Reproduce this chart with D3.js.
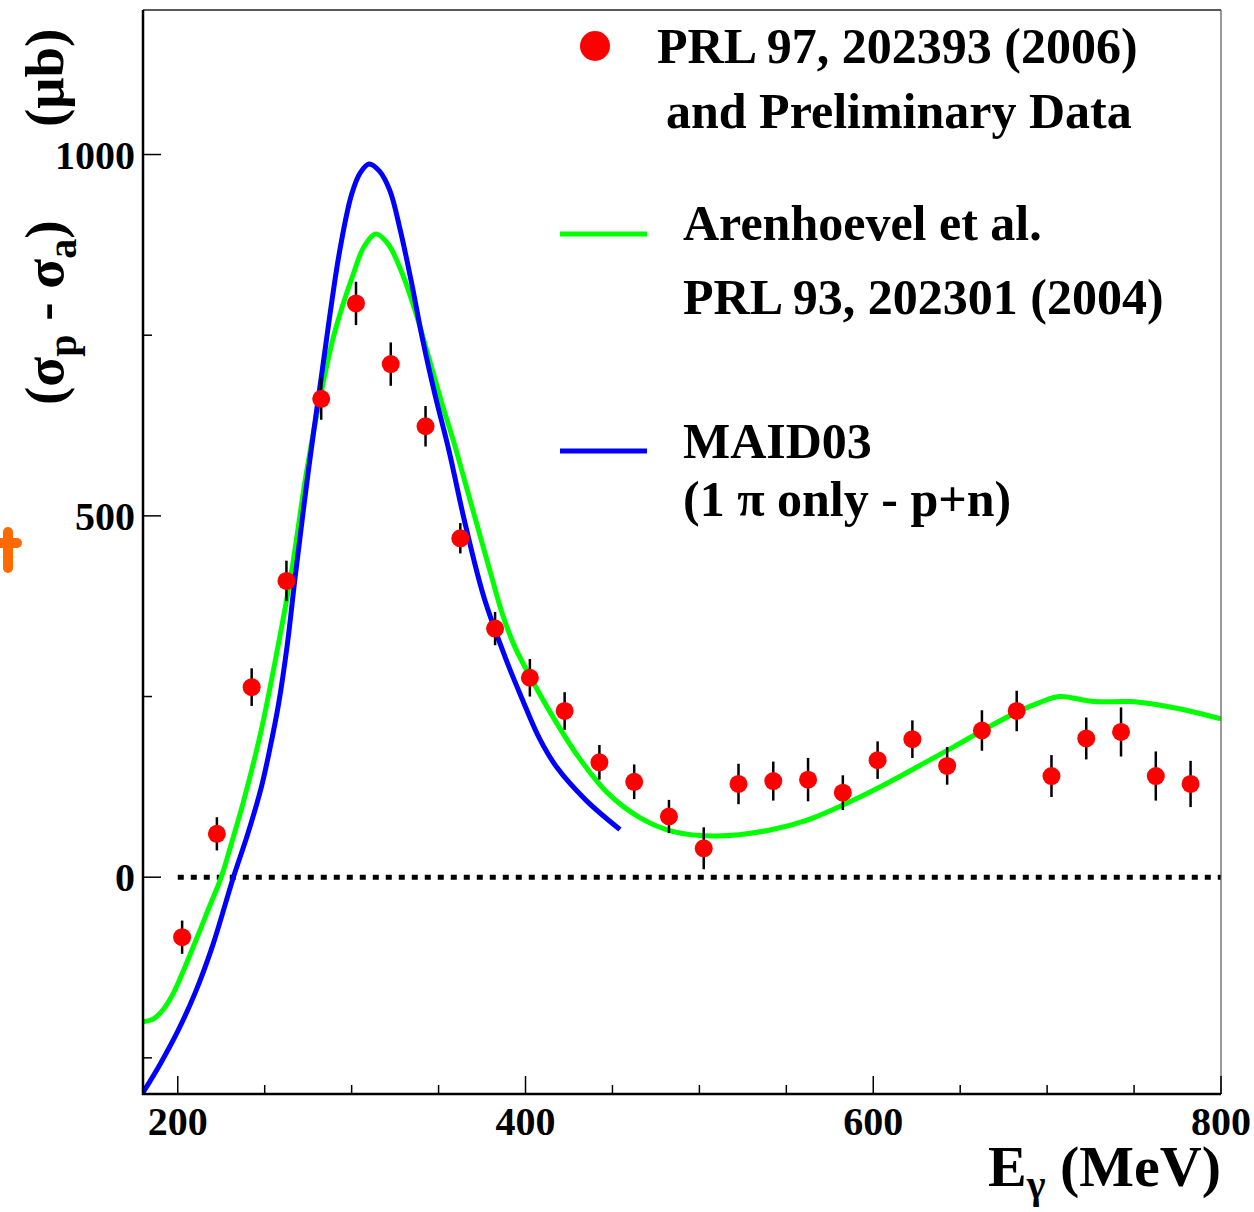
<!DOCTYPE html>
<html>
<head>
<meta charset="utf-8">
<script src="https://cdn.jsdelivr.net/npm/d3@7"></script>
<style>
  html, body { margin: 0; padding: 0; background: #fff; }
  svg { display: block; }
  text { font-family: "Liberation Serif", "Times New Roman", serif; font-weight: bold; fill: #000; }
</style>
</head>
<body>
<script>
// Photon energy of each measured point (MeV)
const dataEnergy = [202.5, 222.5, 242.5, 262.5, 282.5, 302.5, 322.5, 342.5, 362.5, 382.5,
                    402.5, 422.5, 442.5, 462.5, 482.5, 502.5, 522.5, 542.5, 562.5, 582.5,
                    602.5, 622.5, 642.5, 662.5, 682.5, 702.5, 722.5, 742.5, 762.5, 782.5];
// sigma_p - sigma_a (microbarn)
const dataValue = [-83, 60, 263, 410, 662, 794, 710, 624, 469, 344,
                   276, 230, 159, 132, 84, 40, 129, 133, 135, 117,
                   162, 191, 154, 203, 230, 140, 192, 201, 140, 129];
const dataError = [23, 23, 26, 28, 29, 30, 30, 28, 21, 23,
                   26, 26, 24, 24, 23, 29, 28, 27, 30, 24,
                   26, 26, 26, 28, 28, 29, 29, 34, 34, 32];

// Arenhoevel et al. calculation
const arenEnergy = [180, 186, 192, 198, 204, 212, 218, 225, 231, 237.7, 247.7, 257.6, 265.5, 274, 282, 290, 301, 307, 314,
                    321, 329, 337, 344, 352, 359, 366, 373, 380, 387, 394, 403, 415, 430, 447, 466, 485, 510,
                    540, 562, 588, 608, 627, 646, 665, 684, 696, 707, 727, 748, 765, 780, 800];
const arenValue  = [-200, -196, -182, -158, -125, -78, -42, 0, 48, 104, 200, 319, 424, 560, 665, 752, 835, 872, 890,
                    876, 836, 780, 722, 655, 600, 540, 480, 420, 362, 318, 276, 225, 168, 117, 82, 63, 57,
                    65, 79, 106, 130, 155, 180, 206, 230, 242, 250, 243, 243, 238, 231, 219];

// MAID03 (single pion, p+n)
const maidEnergy = [180, 190, 200, 210, 220, 232, 240, 248, 253, 258, 263, 267.5, 275, 283, 293, 300, 305, 310,
                    316, 322, 328, 334, 341, 348, 356, 365, 376, 389, 398, 408, 418, 435, 454.3];
const maidValue  = [-298, -258, -213, -160, -95, 0, 58, 124, 178, 240, 322, 415, 560, 700, 865, 945, 975, 987,
                    977, 950, 895, 828, 742, 667, 590, 492, 388, 300, 247, 192, 152, 106, 66];

// Axis ticks
const xMajorTicks = [200, 400, 600, 800];
const xMinorTicks = [250, 300, 350, 450, 500, 550, 650, 700, 750];
const yMajorTicks = [0, 500, 1000];
const yMinorTicks = [-250, 250, 750];

const W = 1254, H = 1212;
const padL = 143, padR = 1221, padT = 10, padB = 1094;

const svg = d3.select("body").append("svg").attr("width", W).attr("height", H);

const x = d3.scaleLinear().domain([180, 800]).range([padL, padR]);
const y = d3.scaleLinear().domain([-300, 1200]).range([padB, padT]);

svg.append("defs").append("clipPath").attr("id", "plotClip")
  .append("rect").attr("x", padL).attr("y", padT).attr("width", padR - padL).attr("height", padB - padT);

const plot = svg.append("g").attr("clip-path", "url(#plotClip)");

// zero reference line
plot.append("line")
  .attr("x1", x(200)).attr("x2", x(800)).attr("y1", y(0)).attr("y2", y(0))
  .attr("stroke", "#000").attr("stroke-width", 5).attr("stroke-dasharray", "6,7");

const line = d3.line().curve(d3.curveCatmullRom.alpha(0.5));

plot.append("path")
  .attr("d", line(arenEnergy.map((e, i) => [x(e), y(arenValue[i])])))
  .attr("fill", "none").attr("stroke", "#00ff00").attr("stroke-width", 5);

plot.append("path")
  .attr("d", line(maidEnergy.map((e, i) => [x(e), y(maidValue[i])])))
  .attr("fill", "none").attr("stroke", "#0000ff").attr("stroke-width", 5);

// measured points with error bars
const pts = plot.append("g");
dataEnergy.forEach((e, i) => {
  pts.append("line")
    .attr("x1", x(e)).attr("x2", x(e))
    .attr("y1", y(dataValue[i] - dataError[i])).attr("y2", y(dataValue[i] + dataError[i]))
    .attr("stroke", "#000").attr("stroke-width", 2.5);
});
dataEnergy.forEach((e, i) => {
  pts.append("circle")
    .attr("cx", x(e)).attr("cy", y(dataValue[i])).attr("r", 9)
    .attr("fill", "#ff0000");
});

// frame
const axes = svg.append("g");
axes.append("line").attr("x1", padL).attr("x2", padR).attr("y1", padT).attr("y2", padT)
  .attr("stroke", "#222").attr("stroke-width", 1.5);
axes.append("line").attr("x1", padR).attr("x2", padR).attr("y1", padT).attr("y2", padB)
  .attr("stroke", "#555").attr("stroke-width", 1.2);
axes.append("line").attr("x1", padL).attr("x2", padL).attr("y1", padT).attr("y2", padB + 1)
  .attr("stroke", "#000").attr("stroke-width", 2.5);
axes.append("line").attr("x1", padL - 1).attr("x2", padR).attr("y1", padB).attr("y2", padB)
  .attr("stroke", "#000").attr("stroke-width", 2.5);

// ticks
xMajorTicks.forEach(t => axes.append("line").attr("x1", x(t)).attr("x2", x(t))
  .attr("y1", padB).attr("y2", padB - 18).attr("stroke", "#000").attr("stroke-width", 1.5));
xMinorTicks.forEach(t => axes.append("line").attr("x1", x(t)).attr("x2", x(t))
  .attr("y1", padB).attr("y2", padB - 9).attr("stroke", "#000").attr("stroke-width", 1.5));
yMajorTicks.forEach(t => axes.append("line").attr("x1", padL).attr("x2", padL + 18)
  .attr("y1", y(t)).attr("y2", y(t)).attr("stroke", "#000").attr("stroke-width", 1.5));
yMinorTicks.forEach(t => axes.append("line").attr("x1", padL).attr("x2", padL + 9)
  .attr("y1", y(t)).attr("y2", y(t)).attr("stroke", "#000").attr("stroke-width", 1.5));

// tick labels
xMajorTicks.forEach(t => axes.append("text").attr("x", x(t)).attr("y", 1135)
  .attr("text-anchor", "middle").attr("font-size", 40).text(t));
yMajorTicks.forEach(t => axes.append("text").attr("x", 135).attr("y", y(t) + 14)
  .attr("text-anchor", "end").attr("font-size", 40).text(t));

// x axis title
const xt = svg.append("text").attr("x", 1221).attr("y", 1186).attr("text-anchor", "end").attr("font-size", 58);
xt.append("tspan").text("E");
xt.append("tspan").attr("font-size", 40).attr("dy", 12).text("γ");
xt.append("tspan").attr("dy", -12).text(" (MeV)");

// y axis title
const yt1 = svg.append("text").attr("transform", "translate(63,405) rotate(-90)").attr("font-size", 55);
yt1.append("tspan").text("(σ");
yt1.append("tspan").attr("font-size", 40).attr("dy", 13).text("p");
yt1.append("tspan").attr("dy", -13).text(" - σ");
yt1.append("tspan").attr("font-size", 40).attr("dy", 13).text("a");
yt1.append("tspan").attr("dy", -13).text(")");
svg.append("text").attr("transform", "translate(63,127) rotate(-90)").attr("font-size", 55).text("(μb)");

// small orange mark at the left margin
const mark = svg.append("g").attr("stroke", "#ff6a00").attr("stroke-width", 10).attr("stroke-linecap", "round");
mark.append("line").attr("x1", 8).attr("x2", 8).attr("y1", 532).attr("y2", 568);
mark.append("line").attr("x1", -6).attr("x2", 17).attr("y1", 543).attr("y2", 543);

// legend
const lg = svg.append("g");
lg.append("circle").attr("cx", 595).attr("cy", 46).attr("r", 15).attr("fill", "#ff0000");
lg.append("text").attr("x", 657).attr("y", 63).attr("font-size", 50).text("PRL 97, 202393 (2006)");
lg.append("text").attr("x", 666).attr("y", 128).attr("font-size", 50).text("and Preliminary Data");
lg.append("line").attr("x1", 560).attr("x2", 647).attr("y1", 234).attr("y2", 234)
  .attr("stroke", "#00ff00").attr("stroke-width", 5);
lg.append("text").attr("x", 683).attr("y", 240).attr("font-size", 50).text("Arenhoevel et al.");
lg.append("text").attr("x", 683).attr("y", 314).attr("font-size", 50).text("PRL 93, 202301 (2004)");
lg.append("line").attr("x1", 560).attr("x2", 647).attr("y1", 451).attr("y2", 451)
  .attr("stroke", "#0000ff").attr("stroke-width", 5);
lg.append("text").attr("x", 683).attr("y", 458).attr("font-size", 50).text("MAID03");
lg.append("text").attr("x", 683).attr("y", 516).attr("font-size", 50).text("(1 π only - p+n)");
</script>
</body>
</html>
